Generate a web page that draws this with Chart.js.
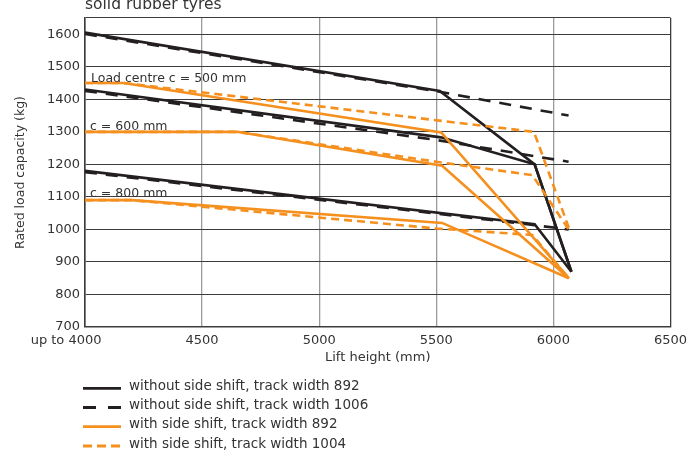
<!DOCTYPE html>
<html>
<head>
<meta charset="utf-8">
<script src="https://cdn.jsdelivr.net/npm/chart.js@4.4.1/dist/chart.umd.min.js"></script>
<style>
  html, body { margin: 0; padding: 0; background: #ffffff; }
  #wrap { width: 693px; height: 450px; }
</style>
</head>
<body>
<div id="wrap"><canvas id="c" width="693" height="450"></canvas></div>
<script>
// ---------- DATA ----------
const chartTitle = 'solid rubber tyres';
const xAxisTitle = 'Lift height (mm)';
const yAxisTitle = 'Rated load capacity (kg)';
const xTicks = [4000, 4500, 5000, 5500, 6000, 6500];
const firstTickPrefix = 'up to ';
const yTicks = [700, 800, 900, 1000, 1100, 1200, 1300, 1400, 1500, 1600];
const curveLabels = ['Load centre c = 500 mm', 'c = 600 mm', 'c = 800 mm'];
const legendLabels = [
  'without side shift, track width 892',
  'without side shift, track width 1006',
  'with side shift, track width 892',
  'with side shift, track width 1004'
];

// Load centre c = 500 mm
const c500_noShift892_x  = [4000, 5515, 5920, 6077];
const c500_noShift892_y  = [1605, 1426, 1200, 870];
const c500_noShift1006_x = [4000, 5515, 6065];
const c500_noShift1006_y = [1601, 1423, 1350];
const c500_shift892_x    = [4000, 4165, 5521, 6066];
const c500_shift892_y    = [1450, 1450, 1298, 850];
const c500_shift1004_x   = [4000, 4165, 5917, 6066];
const c500_shift1004_y   = [1450, 1450, 1300, 1005];

// c = 600 mm
const c600_noShift892_x  = [4000, 5520, 5920, 6077];
const c600_noShift892_y  = [1430, 1283, 1200, 870];
const c600_noShift1006_x = [4000, 5500, 6065];
const c600_noShift1006_y = [1426, 1275, 1208];
const c600_shift892_x    = [4000, 4650, 5525, 6066];
const c600_shift892_y    = [1300, 1300, 1196, 850];
const c600_shift1004_x   = [4000, 4650, 5500, 5910, 6065];
const c600_shift1004_y   = [1300, 1300, 1208, 1167, 1000];

// c = 800 mm
const c800_noShift892_x  = [4000, 5920, 6077];
const c800_noShift892_y  = [1180, 1016, 870];
const c800_noShift1006_x = [4000, 5920, 6065];
const c800_noShift1006_y = [1176, 1013, 1000];
const c800_shift892_x    = [4000, 4200, 5525, 6066];
const c800_shift892_y    = [1090, 1090, 1020, 850];
const c800_shift1004_x   = [4000, 4200, 5500, 5910, 6066];
const c800_shift1004_y   = [1090, 1090, 1003, 983, 850];

// ---------- STYLES ----------
const FONT = '"DejaVu Sans", "Liberation Sans", sans-serif';
const TEXT = '#333333';
const BLACK = '#231f20';
const ORANGE = '#f5901f';
const styles = {
  noShift892:  { color: BLACK,  dash: [],      order: 2 },
  noShift1006: { color: BLACK,  dash: [12, 9], order: 3 },
  shift892:    { color: ORANGE, dash: [],      order: 0 },
  shift1004:   { color: ORANGE, dash: [8, 5],  order: 1 }
};
const legendKeys = ['noShift892', 'noShift1006', 'shift892', 'shift1004'];

function pts(xs, ys) { return xs.map((x, i) => ({ x: x, y: ys[i] })); }
function ds(key, xs, ys) {
  const s = styles[key];
  return {
    data: pts(xs, ys),
    borderColor: s.color,
    borderDash: s.dash,
    borderWidth: 2.6,
    pointRadius: 0,
    tension: 0,
    fill: false,
    order: s.order,
    borderJoinStyle: 'miter',
    borderCapStyle: 'butt'
  };
}

const datasets = [
  ds('noShift892',  c500_noShift892_x,  c500_noShift892_y),
  ds('noShift1006', c500_noShift1006_x, c500_noShift1006_y),
  ds('shift892',    c500_shift892_x,    c500_shift892_y),
  ds('shift1004',   c500_shift1004_x,   c500_shift1004_y),
  ds('noShift892',  c600_noShift892_x,  c600_noShift892_y),
  ds('noShift1006', c600_noShift1006_x, c600_noShift1006_y),
  ds('shift892',    c600_shift892_x,    c600_shift892_y),
  ds('shift1004',   c600_shift1004_x,   c600_shift1004_y),
  ds('noShift892',  c800_noShift892_x,  c800_noShift892_y),
  ds('noShift1006', c800_noShift1006_x, c800_noShift1006_y),
  ds('shift892',    c800_shift892_x,    c800_shift892_y),
  ds('shift1004',   c800_shift1004_x,   c800_shift1004_y)
];

// text positions (pixels)
const curveLabelPos = [ { dx: 6, y: 81.5 }, { dx: 5, y: 130 }, { dx: 5, y: 196.5 } ];
const legendPos = { x0: 83, x1: 121, tx: 129, rows: [388.3, 407.5, 426.7, 446] };

const textPlugin = {
  id: 'texts',
  afterDraw(chart) {
    const ctx = chart.ctx;
    const xs = chart.scales.x;
    ctx.save();
    ctx.fillStyle = TEXT;
    // title (partly cut at top)
    ctx.font = '15.5px ' + FONT;
    ctx.textAlign = 'left';
    ctx.textBaseline = 'alphabetic';
    ctx.fillText(chartTitle, xs.left, 9);
    // curve labels
    ctx.font = '12.5px ' + FONT;
    curveLabels.forEach((t, i) => {
      ctx.fillText(t, xs.left + curveLabelPos[i].dx, curveLabelPos[i].y);
    });
    // "up to " prefix for first x tick
    ctx.font = '13px ' + FONT;
    const w = ctx.measureText(String(xTicks[0])).width;
    ctx.textAlign = 'right';
    ctx.textBaseline = 'middle';
    ctx.fillText(firstTickPrefix, xs.getPixelForValue(xTicks[0]) - w / 2, xs.top + 6 + 13 * 1.2 / 2);
    // legend
    legendKeys.forEach((k, i) => {
      const s = styles[k];
      const y = legendPos.rows[i];
      ctx.beginPath();
      ctx.strokeStyle = s.color;
      ctx.lineWidth = 2.8;
      ctx.setLineDash(s.dash.length ? (k === 'noShift1006' ? [13, 12] : [9, 5]) : []);
      ctx.moveTo(legendPos.x0, y);
      ctx.lineTo(legendPos.x1, y);
      ctx.stroke();
      ctx.setLineDash([]);
      ctx.fillStyle = TEXT;
      ctx.font = '13.5px ' + FONT;
      ctx.textAlign = 'left';
      ctx.textBaseline = 'alphabetic';
      ctx.fillText(legendLabels[i], legendPos.tx, y + 1.5);
    });
    ctx.restore();
  }
};

new Chart(document.getElementById('c'), {
  type: 'line',
  data: { datasets: datasets },
  options: {
    responsive: false,
    animation: false,
    devicePixelRatio: 1,
    layout: { padding: { top: 18, right: 18, bottom: 83, left: 0 } },
    plugins: { legend: { display: false }, tooltip: { enabled: false }, title: { display: false } },
    scales: {
      x: {
        type: 'linear',
        min: xTicks[0],
        max: xTicks[xTicks.length - 1],
        afterBuildTicks: (scale) => { scale.ticks = xTicks.map(v => ({ value: v })); },
        afterFit: (scale) => { scale.height = 40; },
        ticks: {
          padding: 6,
          color: TEXT,
          font: { family: FONT, size: 13 },
          maxRotation: 0,
          autoSkip: false,
          callback: (v) => String(v)
        },
        grid: {
          drawTicks: false,
          lineWidth: 1.3,
          color: (c) => (c.tick && (c.tick.value === xTicks[xTicks.length - 1])) ? '#3c3c3c' : '#9b9b9b'
        },
        border: { display: true, color: '#3c3c3c', width: 1.6 },
        title: {
          display: true,
          text: xAxisTitle,
          color: TEXT,
          font: { family: FONT, size: 13, lineHeight: 1 },
          padding: { top: 0, bottom: 2.5 }
        }
      },
      y: {
        type: 'linear',
        min: 700,
        max: 1650,
        afterBuildTicks: (scale) => { scale.ticks = yTicks.concat([1650]).map(v => ({ value: v })); },
        afterFit: (scale) => { scale.width = 85; },
        ticks: {
          padding: 5,
          color: TEXT,
          font: { family: FONT, size: 13 },
          autoSkip: false,
          callback: (v) => (yTicks.indexOf(v) >= 0 ? String(v) : '')
        },
        grid: { drawTicks: false, lineWidth: 1.1, color: '#3c3c3c' },
        border: { display: true, color: '#3c3c3c', width: 1.6 },
        title: {
          display: true,
          text: yAxisTitle,
          color: TEXT,
          font: { family: FONT, size: 12.5, lineHeight: 1 },
          padding: { top: 14.5, bottom: 0 }
        }
      }
    }
  },
  plugins: [textPlugin]
});
</script>
</body>
</html>
